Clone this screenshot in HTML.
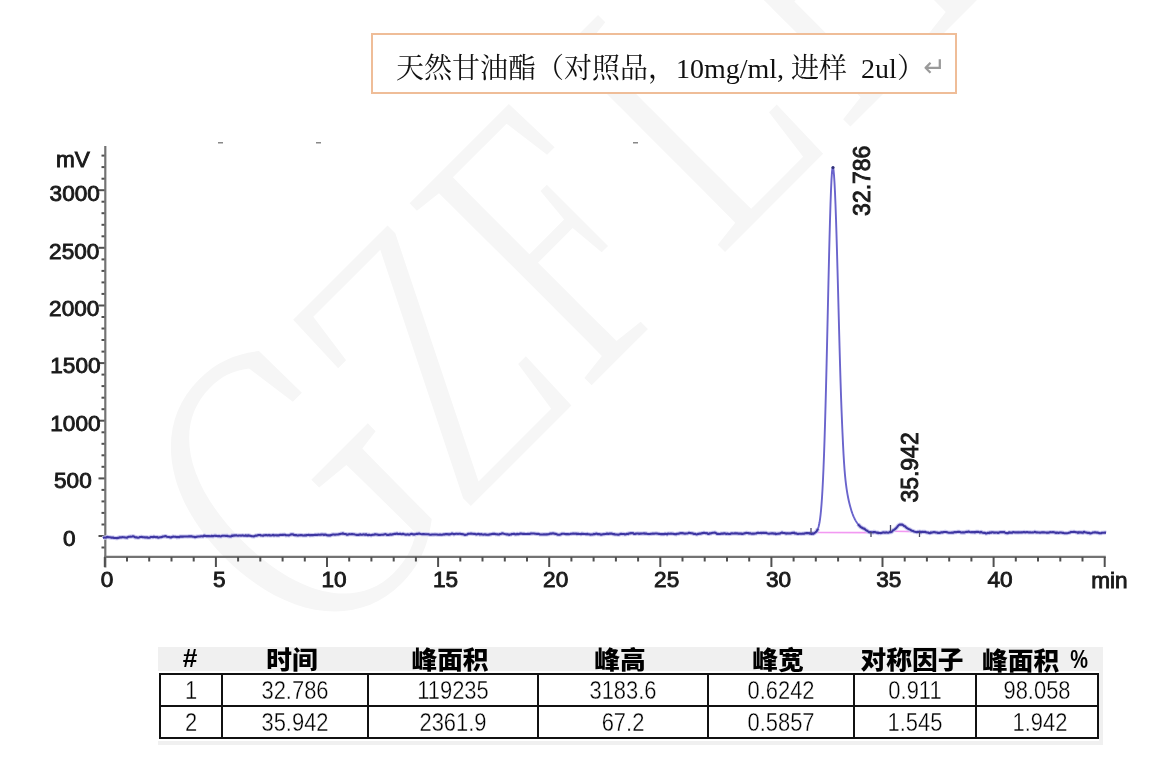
<!DOCTYPE html>
<html><head><meta charset="utf-8"><title>天然甘油酯 色谱图</title>
<style>
html,body{margin:0;padding:0;background:#fff;}
body{width:1157px;height:763px;position:relative;overflow:hidden;}
.title{position:absolute;left:371px;top:33px;width:582px;height:57px;border:2px solid #efbd98;background:#fff;}
.title .tx{position:absolute;top:15.5px;left:23px;white-space:pre;font-size:28px;line-height:36px;color:#111;
 font-family:"Liberation Serif","Noto Serif CJK SC",serif;}
.title .ret{position:absolute;left:550px;top:17px;line-height:30px;color:#9a9a9a;font-family:"DejaVu Sans",sans-serif;font-size:27px;}
.chart{position:absolute;left:0;top:0;}
.tbg{position:absolute;background:#f0f0f0;}
.tbody{position:absolute;left:160px;top:674px;width:937.5px;height:64px;background:#fff;}
.vl{position:absolute;top:673px;width:2px;height:66px;background:#111;}
.hl{position:absolute;left:159px;width:940px;height:2px;background:#111;}
.th{position:absolute;top:647px;width:160px;text-align:center;font-family:"Liberation Sans","Noto Sans CJK SC",sans-serif;font-weight:900;font-size:24.5px;line-height:28px;color:#000;transform:scaleX(1.05);}
.th .pc{display:inline-block;font-family:"Liberation Sans",sans-serif;font-weight:700;font-size:25px;margin-left:3.7px;transform:scaleX(0.76);transform-origin:0 0;position:relative;top:-2.5px;}
.td{position:absolute;width:160px;text-align:center;font-family:"Liberation Sans",sans-serif;font-size:25.5px;line-height:30px;color:#000;transform:scaleX(0.86);-webkit-text-stroke:0.35px #fff;}

</style></head><body>
<svg class="chart" width="1157" height="620" viewBox="0 0 1157 620">
<g id="wm" font-family="Noto Serif CJK SC, Liberation Serif, serif" font-weight="300" font-size="355" fill="#f6f6f6"><text transform="translate(310.0,667.0) rotate(-45) scale(0.827,1.070)">G</text><text transform="translate(465.6,511.4) rotate(-45) scale(0.750,1.000)">Z</text><text transform="translate(581.3,395.7) rotate(-45) scale(0.750,1.000)">F</text><text transform="translate(714.7,262.3) rotate(-45) scale(0.750,1.000)">L</text><text transform="translate(840.1,136.9) rotate(-45) scale(0.750,1.000)">H</text></g>
<g stroke="#737373" stroke-width="2.2" fill="none"><line x1="105.3" y1="146" x2="105.3" y2="567.5" /><line x1="104.3" y1="556.8" x2="1105.8" y2="556.8" /></g>
<g stroke="#505050" stroke-width="2" fill="none"><line x1="101.5" y1="547.5" x2="104.5" y2="547.5"/><line x1="98.5" y1="536.0" x2="104.5" y2="536.0"/><line x1="101.5" y1="524.5" x2="104.5" y2="524.5"/><line x1="101.5" y1="512.9" x2="104.5" y2="512.9"/><line x1="101.5" y1="501.4" x2="104.5" y2="501.4"/><line x1="101.5" y1="489.9" x2="104.5" y2="489.9"/><line x1="98.5" y1="478.4" x2="104.5" y2="478.4"/><line x1="101.5" y1="466.8" x2="104.5" y2="466.8"/><line x1="101.5" y1="455.3" x2="104.5" y2="455.3"/><line x1="101.5" y1="443.8" x2="104.5" y2="443.8"/><line x1="101.5" y1="432.3" x2="104.5" y2="432.3"/><line x1="98.5" y1="420.7" x2="104.5" y2="420.7"/><line x1="101.5" y1="409.2" x2="104.5" y2="409.2"/><line x1="101.5" y1="397.7" x2="104.5" y2="397.7"/><line x1="101.5" y1="386.1" x2="104.5" y2="386.1"/><line x1="101.5" y1="374.6" x2="104.5" y2="374.6"/><line x1="98.5" y1="363.1" x2="104.5" y2="363.1"/><line x1="101.5" y1="351.6" x2="104.5" y2="351.6"/><line x1="101.5" y1="340.0" x2="104.5" y2="340.0"/><line x1="101.5" y1="328.5" x2="104.5" y2="328.5"/><line x1="101.5" y1="317.0" x2="104.5" y2="317.0"/><line x1="98.5" y1="305.5" x2="104.5" y2="305.5"/><line x1="101.5" y1="293.9" x2="104.5" y2="293.9"/><line x1="101.5" y1="282.4" x2="104.5" y2="282.4"/><line x1="101.5" y1="270.9" x2="104.5" y2="270.9"/><line x1="101.5" y1="259.4" x2="104.5" y2="259.4"/><line x1="98.5" y1="247.8" x2="104.5" y2="247.8"/><line x1="101.5" y1="236.3" x2="104.5" y2="236.3"/><line x1="101.5" y1="224.8" x2="104.5" y2="224.8"/><line x1="101.5" y1="213.2" x2="104.5" y2="213.2"/><line x1="101.5" y1="201.7" x2="104.5" y2="201.7"/><line x1="98.5" y1="190.2" x2="104.5" y2="190.2"/><line x1="101.5" y1="178.7" x2="104.5" y2="178.7"/><line x1="101.5" y1="167.1" x2="104.5" y2="167.1"/><line x1="101.5" y1="155.6" x2="104.5" y2="155.6"/><line x1="104.8" y1="557" x2="104.8" y2="567.0"/><line x1="127.0" y1="557" x2="127.0" y2="561.5"/><line x1="149.2" y1="557" x2="149.2" y2="561.5"/><line x1="171.5" y1="557" x2="171.5" y2="561.5"/><line x1="193.7" y1="557" x2="193.7" y2="561.5"/><line x1="215.9" y1="557" x2="215.9" y2="567.0"/><line x1="238.1" y1="557" x2="238.1" y2="561.5"/><line x1="260.3" y1="557" x2="260.3" y2="561.5"/><line x1="282.6" y1="557" x2="282.6" y2="561.5"/><line x1="304.8" y1="557" x2="304.8" y2="561.5"/><line x1="327.0" y1="557" x2="327.0" y2="567.0"/><line x1="349.2" y1="557" x2="349.2" y2="561.5"/><line x1="371.4" y1="557" x2="371.4" y2="561.5"/><line x1="393.7" y1="557" x2="393.7" y2="561.5"/><line x1="415.9" y1="557" x2="415.9" y2="561.5"/><line x1="438.1" y1="557" x2="438.1" y2="567.0"/><line x1="460.3" y1="557" x2="460.3" y2="561.5"/><line x1="482.5" y1="557" x2="482.5" y2="561.5"/><line x1="504.8" y1="557" x2="504.8" y2="561.5"/><line x1="527.0" y1="557" x2="527.0" y2="561.5"/><line x1="549.2" y1="557" x2="549.2" y2="567.0"/><line x1="571.4" y1="557" x2="571.4" y2="561.5"/><line x1="593.6" y1="557" x2="593.6" y2="561.5"/><line x1="615.9" y1="557" x2="615.9" y2="561.5"/><line x1="638.1" y1="557" x2="638.1" y2="561.5"/><line x1="660.3" y1="557" x2="660.3" y2="567.0"/><line x1="682.5" y1="557" x2="682.5" y2="561.5"/><line x1="704.7" y1="557" x2="704.7" y2="561.5"/><line x1="727.0" y1="557" x2="727.0" y2="561.5"/><line x1="749.2" y1="557" x2="749.2" y2="561.5"/><line x1="771.4" y1="557" x2="771.4" y2="567.0"/><line x1="793.6" y1="557" x2="793.6" y2="561.5"/><line x1="815.8" y1="557" x2="815.8" y2="561.5"/><line x1="838.1" y1="557" x2="838.1" y2="561.5"/><line x1="860.3" y1="557" x2="860.3" y2="561.5"/><line x1="882.5" y1="557" x2="882.5" y2="567.0"/><line x1="904.7" y1="557" x2="904.7" y2="561.5"/><line x1="926.9" y1="557" x2="926.9" y2="561.5"/><line x1="949.2" y1="557" x2="949.2" y2="561.5"/><line x1="971.4" y1="557" x2="971.4" y2="561.5"/><line x1="993.6" y1="557" x2="993.6" y2="567.0"/><line x1="1015.8" y1="557" x2="1015.8" y2="561.5"/><line x1="1038.0" y1="557" x2="1038.0" y2="561.5"/><line x1="1060.3" y1="557" x2="1060.3" y2="561.5"/><line x1="1082.5" y1="557" x2="1082.5" y2="561.5"/><line x1="1104.7" y1="557" x2="1104.7" y2="567.0"/></g>
<g id="lbl" font-family="Liberation Sans, Arial, sans-serif" font-size="22" fill="#1a1a1a" stroke="#1a1a1a" stroke-width="0.9">
<text x="56.00" y="166.50" font-size="22.6">mV</text><text x="49.60" y="200.70" font-size="22.6">3000</text><text x="49.10" y="258.90" font-size="22.6">2500</text><text x="49.10" y="316.10" font-size="22.6">2000</text><text x="50.30" y="373.30" font-size="22.6">1500</text><text x="50.30" y="430.50" font-size="22.6">1000</text><text x="54.00" y="488.30" font-size="22.6">500</text><text x="63.10" y="546.20" font-size="22.6">0</text><text x="100.70" y="587.00" font-size="22.6">0</text><text x="213.00" y="587.00" font-size="22.6">5</text><text x="321.50" y="587.00" font-size="22.6">10</text><text x="433.00" y="587.00" font-size="22.6">15</text><text x="543.10" y="587.00" font-size="22.6">20</text><text x="654.10" y="587.00" font-size="22.6">25</text><text x="765.90" y="587.00" font-size="22.6">30</text><text x="876.20" y="587.00" font-size="22.6">35</text><text x="987.50" y="587.00" font-size="22.6">40</text><text x="1091.20" y="588.00" font-size="22.6">min</text><text transform="translate(869.90,215.90) rotate(-90) scale(1,1.07)" font-size="23">32.786</text><text transform="translate(917.80,502.60) rotate(-90) scale(1,1.07)" font-size="23">35.942</text>
</g>
<g stroke="#f080f0" stroke-width="1.6" fill="none" opacity="0.8">
<line x1="811" y1="532.5" x2="871" y2="532.6"/>
<line x1="890.5" y1="531.2" x2="919.5" y2="531.6"/>
</g>
<path d="M815.0,532.59 L815.5,532.28 L816.0,531.90 L816.5,531.39 L817.0,530.70 L817.5,529.79 L818.0,528.60 L818.5,527.05 L819.0,525.06 L819.5,522.53 L820.0,519.35 L820.5,515.41 L821.0,510.57 L821.5,504.69 L822.0,497.65 L822.5,489.31 L823.0,479.55 L823.5,468.26 L824.0,455.39 L824.5,440.88 L825.0,424.76 L825.5,407.09 L826.0,388.01 L826.5,367.69 L827.0,346.41 L827.5,324.49 L828.0,302.31 L828.5,280.32 L829.0,258.99 L829.5,238.81 L830.0,220.30 L830.5,203.94 L831.0,190.16 L831.5,179.37 L832.0,171.86 L832.5,167.87 L833.0,167.43 L833.5,169.87 L834.0,174.97 L834.5,182.61 L835.0,192.62 L835.5,204.80 L836.0,218.89 L836.5,234.60 L837.0,251.62 L837.5,269.64 L838.0,288.34 L838.5,307.38 L839.0,326.44 L839.5,345.17 L840.0,363.17 L840.5,380.06 L841.0,395.48 L841.5,409.29 L842.0,421.64 L842.5,433.00 L843.0,443.91 L843.5,453.64 L844.0,462.00 L844.5,469.08 L845.0,475.06 L845.5,480.10 L846.0,484.39 L846.5,488.11 L847.0,491.39 L847.5,494.33 L848.0,497.00 L848.5,499.45 L849.0,501.72 L849.5,503.83 L850.0,505.79 L850.5,507.61 L851.0,509.32 L851.5,510.91 L852.0,512.39 L852.5,513.78 L853.0,515.07 L853.5,516.28 L854.0,517.41 L854.5,518.46 L855.0,519.45 L855.5,520.37 L856.0,521.22 L856.5,522.02 L857.0,522.77 L857.5,523.47 L858.0,524.12 L858.5,524.73 L859.0,525.30 L859.5,525.83 L860.0,526.20 L860.5,527.02 L861.0,527.17 L861.5,527.41 L862.0,527.80" fill="none" stroke="#6a64cc" stroke-width="1.9" stroke-linejoin="round"/>
<g fill="none" stroke="#c9c7ef" stroke-width="4.2" stroke-linejoin="round"><path d="M103.0,538.07 L104.0,537.52 L105.0,537.56 L106.0,537.58 L107.0,536.87 L108.0,537.16 L109.0,537.28 L110.0,537.27 L111.0,537.63 L112.0,537.64 L113.0,537.48 L114.0,537.96 L115.0,537.99 L116.0,538.07 L117.0,538.14 L118.0,537.86 L119.0,537.67 L120.0,537.24 L121.0,537.44 L122.0,537.16 L123.0,537.23 L124.0,537.22 L125.0,537.43 L126.0,537.58 L127.0,537.82 L128.0,536.98 L129.0,536.73 L130.0,536.68 L131.0,536.67 L132.0,536.48 L133.0,536.22 L134.0,536.45 L135.0,537.32 L136.0,537.39 L137.0,537.40 L138.0,537.69 L139.0,537.49 L140.0,537.08 L141.0,536.93 L142.0,536.92 L143.0,537.21 L144.0,537.20 L145.0,537.37 L146.0,537.53 L147.0,537.24 L148.0,537.77 L149.0,537.67 L150.0,537.50 L151.0,536.93 L152.0,537.05 L153.0,537.21 L154.0,536.67 L155.0,536.96 L156.0,537.25 L157.0,536.95 L158.0,537.59 L159.0,537.45 L160.0,537.26 L161.0,537.14 L162.0,536.91 L163.0,536.52 L164.0,536.50 L165.0,536.12 L166.0,536.30 L167.0,536.82 L168.0,536.93 L169.0,536.99 L170.0,537.40 L171.0,537.44 L172.0,536.94 L173.0,536.63 L174.0,536.77 L175.0,536.79 L176.0,536.86 L177.0,537.28 L178.0,536.88 L179.0,537.24 L180.0,536.63 L181.0,536.51 L182.0,536.59 L183.0,536.58 L184.0,536.52 L185.0,536.48 L186.0,536.50 L187.0,536.52 L188.0,536.56 L189.0,536.35 L190.0,536.37 L191.0,536.42 L192.0,536.40 L193.0,536.68 L194.0,536.80 L195.0,537.17 L196.0,536.89 L197.0,536.68 L198.0,536.56 L199.0,536.47 L200.0,536.51 L201.0,536.19 L202.0,536.26 L203.0,536.48 L204.0,535.64 L205.0,535.86 L206.0,536.09 L207.0,536.12 L208.0,536.12 L209.0,536.03 L210.0,536.23 L211.0,536.12 L212.0,535.87 L213.0,536.29 L214.0,535.83 L215.0,535.67 L216.0,535.86 L217.0,536.03 L218.0,536.27 L219.0,535.92 L220.0,536.33 L221.0,536.45 L222.0,535.82 L223.0,535.77 L224.0,535.80 L225.0,535.78 L226.0,536.05 L227.0,535.72 L228.0,536.20 L229.0,536.32 L230.0,536.47 L231.0,536.39 L232.0,535.47 L233.0,535.92 L234.0,535.31 L235.0,535.63 L236.0,535.25 L237.0,535.58 L238.0,535.79 L239.0,535.53 L240.0,535.55 L241.0,535.61 L242.0,535.46 L243.0,535.42 L244.0,535.72 L245.0,535.64 L246.0,535.39 L247.0,535.94 L248.0,535.26 L249.0,535.72 L250.0,535.67 L251.0,535.96 L252.0,536.27 L253.0,536.30 L254.0,536.37 L255.0,535.82 L256.0,535.57 L257.0,535.67 L258.0,535.16 L259.0,535.04 L260.0,534.96 L261.0,535.52 L262.0,535.51 L263.0,535.68 L264.0,535.20 L265.0,535.28 L266.0,534.96 L267.0,535.23 L268.0,535.36 L269.0,534.96 L270.0,535.46 L271.0,535.42 L272.0,535.24 L273.0,534.92 L274.0,535.52 L275.0,535.26 L276.0,535.18 L277.0,535.36 L278.0,535.31 L279.0,535.40 L280.0,534.78 L281.0,534.99 L282.0,534.92 L283.0,534.89 L284.0,534.69 L285.0,534.77 L286.0,535.28 L287.0,535.25 L288.0,535.25 L289.0,535.36 L290.0,534.85 L291.0,534.30 L292.0,534.56 L293.0,534.35 L294.0,535.00 L295.0,535.13 L296.0,535.15 L297.0,535.34 L298.0,535.45 L299.0,535.19 L300.0,535.28 L301.0,534.96 L302.0,535.17 L303.0,535.34 L304.0,535.48 L305.0,535.17 L306.0,535.49 L307.0,534.97 L308.0,535.05 L309.0,534.83 L310.0,535.34 L311.0,534.93 L312.0,535.15 L313.0,535.10 L314.0,535.07 L315.0,534.86 L316.0,534.88 L317.0,535.05 L318.0,534.67 L319.0,534.73 L320.0,534.82 L321.0,534.62 L322.0,534.44 L323.0,534.58 L324.0,534.91 L325.0,534.50 L326.0,534.83 L327.0,535.27 L328.0,535.37 L329.0,535.28 L330.0,535.37 L331.0,535.11 L332.0,534.67 L333.0,534.44 L334.0,534.51 L335.0,534.79 L336.0,534.56 L337.0,534.52 L338.0,534.48 L339.0,534.15 L340.0,534.14 L341.0,533.68 L342.0,533.78 L343.0,533.29 L344.0,533.94 L345.0,534.06 L346.0,534.11 L347.0,534.79 L348.0,534.64 L349.0,534.16 L350.0,534.18 L351.0,534.18 L352.0,533.93 L353.0,534.18 L354.0,534.33 L355.0,534.53 L356.0,534.68 L357.0,535.00 L358.0,534.92 L359.0,534.84 L360.0,534.30 L361.0,534.76 L362.0,534.76 L363.0,534.44 L364.0,534.41 L365.0,534.87 L366.0,534.26 L367.0,534.75 L368.0,535.21 L369.0,534.72 L370.0,535.08 L371.0,535.29 L372.0,534.83 L373.0,534.80 L374.0,534.70 L375.0,534.27 L376.0,534.41 L377.0,534.59 L378.0,534.86 L379.0,534.88 L380.0,534.94 L381.0,534.75 L382.0,534.71 L383.0,534.72 L384.0,534.41 L385.0,534.17 L386.0,534.23 L387.0,535.02 L388.0,534.91 L389.0,534.91 L390.0,534.28 L391.0,534.68 L392.0,534.40 L393.0,534.36 L394.0,533.94 L395.0,533.77 L396.0,533.88 L397.0,533.47 L398.0,534.04 L399.0,533.92 L400.0,533.72 L401.0,534.09 L402.0,534.25 L403.0,533.81 L404.0,534.13 L405.0,534.49 L406.0,534.59 L407.0,534.51 L408.0,534.34 L409.0,534.77 L410.0,534.43 L411.0,533.93 L412.0,533.85 L413.0,534.38 L414.0,534.23 L415.0,534.34 L416.0,534.10 L417.0,533.73 L418.0,533.90 L419.0,533.49 L420.0,533.82 L421.0,534.05 L422.0,534.24 L423.0,534.06 L424.0,534.15 L425.0,534.22 L426.0,534.19 L427.0,534.27 L428.0,534.31 L429.0,534.37 L430.0,534.73 L431.0,534.70 L432.0,534.55 L433.0,534.52 L434.0,534.54 L435.0,534.45 L436.0,534.51 L437.0,534.56 L438.0,534.71 L439.0,534.76 L440.0,534.57 L441.0,534.80 L442.0,534.77 L443.0,534.50 L444.0,534.26 L445.0,534.33 L446.0,534.10 L447.0,533.98 L448.0,534.36 L449.0,534.16 L450.0,534.38 L451.0,533.95 L452.0,533.59 L453.0,533.83 L454.0,534.31 L455.0,533.97 L456.0,533.77 L457.0,533.81 L458.0,533.93 L459.0,533.82 L460.0,533.72 L461.0,534.03 L462.0,534.08 L463.0,534.21 L464.0,534.56 L465.0,534.88 L466.0,534.72 L467.0,534.54 L468.0,533.88 L469.0,533.77 L470.0,533.73 L471.0,533.48 L472.0,533.78 L473.0,533.82 L474.0,534.00 L475.0,533.89 L476.0,534.41 L477.0,534.17 L478.0,533.91 L479.0,533.99 L480.0,534.52 L481.0,534.10 L482.0,534.44 L483.0,534.58 L484.0,534.49 L485.0,534.36 L486.0,534.65 L487.0,534.70 L488.0,534.81 L489.0,534.65 L490.0,534.35 L491.0,534.29 L492.0,534.03 L493.0,533.84 L494.0,533.81 L495.0,533.89 L496.0,534.28 L497.0,534.19 L498.0,534.39 L499.0,534.47 L500.0,534.02 L501.0,533.94 L502.0,533.41 L503.0,533.52 L504.0,533.79 L505.0,534.00 L506.0,534.17 L507.0,534.40 L508.0,534.33 L509.0,534.90 L510.0,534.53 L511.0,534.45 L512.0,533.95 L513.0,534.02 L514.0,533.75 L515.0,534.29 L516.0,534.38 L517.0,533.88 L518.0,534.15 L519.0,534.18 L520.0,533.65 L521.0,533.59 L522.0,533.73 L523.0,533.85 L524.0,533.75 L525.0,534.01 L526.0,534.00 L527.0,533.99 L528.0,533.91 L529.0,533.97 L530.0,533.87 L531.0,533.42 L532.0,533.57 L533.0,533.48 L534.0,533.49 L535.0,533.71 L536.0,533.81 L537.0,534.04 L538.0,533.84 L539.0,534.10 L540.0,534.46 L541.0,534.50 L542.0,534.46 L543.0,534.44 L544.0,534.23 L545.0,534.46 L546.0,534.40 L547.0,534.35 L548.0,534.23 L549.0,534.23 L550.0,533.59 L551.0,533.67 L552.0,533.63 L553.0,533.25 L554.0,533.62 L555.0,533.84 L556.0,533.90 L557.0,534.43 L558.0,534.61 L559.0,534.75 L560.0,534.60 L561.0,534.21 L562.0,533.78 L563.0,533.74 L564.0,533.74 L565.0,534.00 L566.0,534.11 L567.0,534.09 L568.0,534.05 L569.0,534.19 L570.0,534.00 L571.0,533.76 L572.0,533.78 L573.0,533.59 L574.0,533.63 L575.0,533.68 L576.0,533.53 L577.0,534.07 L578.0,533.66 L579.0,534.02 L580.0,533.96 L581.0,534.23 L582.0,533.65 L583.0,533.91 L584.0,534.01 L585.0,533.96 L586.0,534.21 L587.0,533.87 L588.0,534.17 L589.0,534.28 L590.0,534.53 L591.0,534.58 L592.0,534.46 L593.0,534.44 L594.0,533.92 L595.0,534.10 L596.0,533.56 L597.0,533.79 L598.0,534.27 L599.0,534.06 L600.0,534.31 L601.0,534.63 L602.0,534.43 L603.0,534.17 L604.0,534.19 L605.0,534.07 L606.0,533.94 L607.0,533.55 L608.0,533.92 L609.0,533.85 L610.0,533.53 L611.0,533.60 L612.0,533.58 L613.0,534.11 L614.0,533.98 L615.0,534.49 L616.0,534.48 L617.0,534.50 L618.0,534.68 L619.0,534.61 L620.0,534.14 L621.0,533.85 L622.0,534.05 L623.0,533.93 L624.0,534.08 L625.0,534.37 L626.0,534.27 L627.0,533.82 L628.0,534.09 L629.0,533.43 L630.0,533.39 L631.0,533.07 L632.0,533.24 L633.0,533.10 L634.0,533.92 L635.0,533.98 L636.0,533.58 L637.0,533.52 L638.0,533.45 L639.0,533.89 L640.0,533.54 L641.0,533.59 L642.0,533.53 L643.0,533.56 L644.0,533.39 L645.0,533.61 L646.0,533.41 L647.0,533.76 L648.0,533.94 L649.0,534.07 L650.0,533.96 L651.0,533.77 L652.0,533.80 L653.0,533.49 L654.0,533.71 L655.0,533.52 L656.0,533.44 L657.0,533.55 L658.0,533.73 L659.0,533.86 L660.0,534.06 L661.0,534.16 L662.0,534.12 L663.0,534.04 L664.0,534.25 L665.0,533.74 L666.0,533.89 L667.0,534.40 L668.0,533.53 L669.0,533.68 L670.0,533.70 L671.0,533.63 L672.0,533.70 L673.0,533.70 L674.0,533.99 L675.0,534.10 L676.0,534.30 L677.0,533.75 L678.0,533.73 L679.0,533.62 L680.0,533.18 L681.0,533.03 L682.0,533.30 L683.0,533.16 L684.0,533.51 L685.0,533.61 L686.0,533.51 L687.0,533.44 L688.0,533.16 L689.0,532.79 L690.0,532.99 L691.0,533.16 L692.0,533.18 L693.0,533.53 L694.0,533.94 L695.0,533.85 L696.0,534.23 L697.0,534.45 L698.0,533.90 L699.0,533.83 L700.0,533.54 L701.0,533.58 L702.0,533.13 L703.0,533.08 L704.0,532.77 L705.0,533.00 L706.0,533.21 L707.0,533.14 L708.0,533.91 L709.0,533.86 L710.0,533.25 L711.0,533.42 L712.0,532.94 L713.0,532.80 L714.0,532.73 L715.0,532.57 L716.0,533.16 L717.0,533.90 L718.0,533.88 L719.0,533.98 L720.0,533.87 L721.0,533.67 L722.0,533.66 L723.0,533.67 L724.0,533.34 L725.0,533.37 L726.0,533.92 L727.0,533.64 L728.0,533.77 L729.0,534.04 L730.0,533.98 L731.0,533.56 L732.0,533.38 L733.0,533.53 L734.0,533.45 L735.0,533.16 L736.0,533.38 L737.0,533.36 L738.0,533.60 L739.0,533.56 L740.0,533.63 L741.0,533.63 L742.0,533.88 L743.0,533.86 L744.0,533.39 L745.0,533.40 L746.0,532.92 L747.0,532.95 L748.0,533.08 L749.0,533.37 L750.0,533.28 L751.0,533.60 L752.0,533.85 L753.0,533.62 L754.0,533.82 L755.0,533.52 L756.0,533.50 L757.0,533.05 L758.0,532.77 L759.0,533.06 L760.0,533.07 L761.0,532.88 L762.0,533.10 L763.0,532.85 L764.0,532.80 L765.0,533.07 L766.0,532.84 L767.0,533.16 L768.0,533.43 L769.0,533.66 L770.0,533.46 L771.0,533.47 L772.0,533.21 L773.0,533.36 L774.0,533.67 L775.0,533.40 L776.0,534.12 L777.0,533.69 L778.0,533.79 L779.0,533.66 L780.0,533.56 L781.0,532.88 L782.0,532.52 L783.0,532.94 L784.0,533.03 L785.0,533.15 L786.0,533.67 L787.0,533.34 L788.0,533.37 L789.0,533.44 L790.0,533.25 L791.0,533.42 L792.0,532.88 L793.0,533.07 L794.0,532.59 L795.0,533.44 L796.0,533.31 L797.0,533.64 L798.0,533.96 L799.0,533.69 L800.0,533.76 L801.0,533.80 L802.0,533.73 L803.0,533.66 L804.0,533.69 L805.0,533.34 L806.0,533.15 L806.5,533.04 L807.0,533.21 L807.5,533.14 L808.0,533.07 L808.5,533.29 L809.0,533.23 L809.5,533.16 L810.0,533.74 L810.5,533.66 L811.0,533.48 L811.5,533.89 L812.0,533.76 L812.5,533.36 L813.0,533.84 L813.5,533.46 L814.0,533.36 L814.5,532.97 L815.0,532.59 L815.5,532.28 L816.0,531.90 L816.5,531.39 L817.0,530.70 L817.5,529.79 L818.0,528.60"/><path d="M858.0,524.12 L858.5,524.73 L859.0,525.30 L859.5,525.83 L860.0,526.20 L860.5,527.02 L861.0,527.17 L861.5,527.41 L862.0,527.80 L862.5,528.01 L863.0,528.37 L863.5,528.44 L864.0,528.76 L864.5,528.66 L865.0,529.26 L865.5,529.77 L866.0,530.21 L866.5,530.24 L867.0,530.62 L867.5,531.25 L868.0,531.21 L868.5,531.68 L869.0,532.08 L869.5,531.98 L870.0,532.34 L870.5,532.06 L871.0,532.26 L871.5,532.20 L872.0,532.20 L872.5,532.34 L873.0,532.53 L873.5,531.95 L874.0,531.97 L874.5,532.19 L875.0,531.98 L875.5,532.36 L876.0,532.51 L876.5,532.50 L877.0,532.81 L877.5,532.58 L878.0,533.13 L878.5,532.81 L879.0,533.03 L879.5,533.07 L880.0,533.06 L881.0,533.12 L882.0,532.73 L883.0,532.41 L884.0,532.44 L885.0,532.62 L886.0,532.41 L887.0,532.56 L888.0,532.74 L889.0,532.45 L890.0,531.91 L891.0,532.19 L892.0,531.63 L893.0,530.26 L894.0,529.88 L895.0,529.11 L896.0,528.22 L897.0,527.09 L898.0,525.88 L899.0,524.87 L900.0,524.53 L901.0,524.62 L902.0,524.53 L903.0,525.07 L904.0,525.94 L905.0,526.34 L906.0,527.36 L907.0,528.01 L908.0,528.79 L909.0,529.16 L910.0,529.67 L911.0,530.27 L912.0,530.78 L913.0,531.03 L914.0,531.43 L915.0,531.76 L916.0,531.98 L917.0,532.18 L918.0,531.82 L919.0,531.93 L920.0,531.56 L921.0,532.31 L922.0,531.76 L923.0,531.83 L924.0,531.95 L925.0,531.74 L926.0,532.32 L927.0,532.54 L928.0,532.49 L929.0,533.02 L930.0,533.16 L931.0,532.41 L932.0,532.62 L933.0,532.25 L934.0,532.17 L935.0,532.21 L936.0,532.55 L937.0,532.53 L938.0,532.93 L939.0,532.76 L940.0,532.87 L941.0,532.36 L942.0,532.23 L943.0,532.35 L944.0,532.02 L945.0,531.96 L946.0,531.93 L947.0,532.18 L948.0,532.52 L949.0,532.77 L950.0,532.72 L951.0,532.73 L952.0,532.57 L953.0,532.73 L954.0,532.30 L955.0,532.12 L956.0,532.22 L957.0,531.96 L958.0,531.85 L959.0,531.86 L960.0,532.08 L961.0,532.44 L962.0,532.57 L963.0,532.36 L964.0,532.59 L965.0,532.34 L966.0,531.87 L967.0,531.96 L968.0,531.64 L969.0,531.65 L970.0,531.98 L971.0,532.26 L972.0,532.04 L973.0,532.30 L974.0,532.02 L975.0,532.48 L976.0,531.85 L977.0,532.08 L978.0,531.76 L979.0,532.12 L980.0,532.54 L981.0,531.87 L982.0,532.44 L983.0,532.80 L984.0,532.86 L985.0,532.91 L986.0,533.52 L987.0,533.19 L988.0,532.81 L989.0,533.09 L990.0,532.39 L991.0,532.68 L992.0,532.22 L993.0,532.32 L994.0,532.63 L995.0,532.60 L996.0,532.49 L997.0,532.49 L998.0,532.92 L999.0,532.63 L1000.0,532.09 L1001.0,532.19 L1002.0,532.07 L1003.0,532.22 L1004.0,531.95 L1005.0,532.60 L1006.0,533.06 L1007.0,533.14 L1008.0,533.12 L1009.0,532.36 L1010.0,532.63 L1011.0,532.52 L1012.0,532.80 L1013.0,532.15 L1014.0,532.28 L1015.0,532.38 L1016.0,532.55 L1017.0,532.30 L1018.0,532.58 L1019.0,532.22 L1020.0,532.42 L1021.0,532.28 L1022.0,532.40 L1023.0,532.20 L1024.0,531.97 L1025.0,532.38 L1026.0,532.20 L1027.0,532.07 L1028.0,532.28 L1029.0,532.53 L1030.0,532.26 L1031.0,532.44 L1032.0,532.51 L1033.0,532.41 L1034.0,532.17 L1035.0,531.81 L1036.0,532.44 L1037.0,532.38 L1038.0,532.44 L1039.0,532.48 L1040.0,532.61 L1041.0,532.46 L1042.0,532.31 L1043.0,532.34 L1044.0,532.41 L1045.0,532.50 L1046.0,532.51 L1047.0,532.88 L1048.0,532.47 L1049.0,532.66 L1050.0,532.13 L1051.0,532.18 L1052.0,532.27 L1053.0,532.13 L1054.0,532.18 L1055.0,532.60 L1056.0,532.86 L1057.0,532.65 L1058.0,532.83 L1059.0,532.83 L1060.0,532.55 L1061.0,532.55 L1062.0,532.69 L1063.0,532.85 L1064.0,533.10 L1065.0,533.26 L1066.0,533.22 L1067.0,533.25 L1068.0,533.04 L1069.0,532.77 L1070.0,532.50 L1071.0,531.96 L1072.0,532.02 L1073.0,531.97 L1074.0,531.78 L1075.0,532.01 L1076.0,532.23 L1077.0,532.27 L1078.0,532.84 L1079.0,532.12 L1080.0,532.61 L1081.0,532.28 L1082.0,532.66 L1083.0,532.81 L1084.0,531.78 L1085.0,532.26 L1086.0,532.48 L1087.0,532.59 L1088.0,533.03 L1089.0,532.76 L1090.0,533.39 L1091.0,533.19 L1092.0,532.89 L1093.0,532.50 L1094.0,532.52 L1095.0,532.27 L1096.0,532.53 L1097.0,532.64 L1098.0,532.59 L1099.0,533.17 L1100.0,533.25 L1101.0,533.25 L1102.0,532.76 L1103.0,532.73 L1104.0,532.72 L1105.0,532.62 L1106.0,532.87"/></g>
<path d="M103.0,538.07 L104.0,537.52 L105.0,537.56 L106.0,537.58 L107.0,536.87 L108.0,537.16 L109.0,537.28 L110.0,537.27 L111.0,537.63 L112.0,537.64 L113.0,537.48 L114.0,537.96 L115.0,537.99 L116.0,538.07 L117.0,538.14 L118.0,537.86 L119.0,537.67 L120.0,537.24 L121.0,537.44 L122.0,537.16 L123.0,537.23 L124.0,537.22 L125.0,537.43 L126.0,537.58 L127.0,537.82 L128.0,536.98 L129.0,536.73 L130.0,536.68 L131.0,536.67 L132.0,536.48 L133.0,536.22 L134.0,536.45 L135.0,537.32 L136.0,537.39 L137.0,537.40 L138.0,537.69 L139.0,537.49 L140.0,537.08 L141.0,536.93 L142.0,536.92 L143.0,537.21 L144.0,537.20 L145.0,537.37 L146.0,537.53 L147.0,537.24 L148.0,537.77 L149.0,537.67 L150.0,537.50 L151.0,536.93 L152.0,537.05 L153.0,537.21 L154.0,536.67 L155.0,536.96 L156.0,537.25 L157.0,536.95 L158.0,537.59 L159.0,537.45 L160.0,537.26 L161.0,537.14 L162.0,536.91 L163.0,536.52 L164.0,536.50 L165.0,536.12 L166.0,536.30 L167.0,536.82 L168.0,536.93 L169.0,536.99 L170.0,537.40 L171.0,537.44 L172.0,536.94 L173.0,536.63 L174.0,536.77 L175.0,536.79 L176.0,536.86 L177.0,537.28 L178.0,536.88 L179.0,537.24 L180.0,536.63 L181.0,536.51 L182.0,536.59 L183.0,536.58 L184.0,536.52 L185.0,536.48 L186.0,536.50 L187.0,536.52 L188.0,536.56 L189.0,536.35 L190.0,536.37 L191.0,536.42 L192.0,536.40 L193.0,536.68 L194.0,536.80 L195.0,537.17 L196.0,536.89 L197.0,536.68 L198.0,536.56 L199.0,536.47 L200.0,536.51 L201.0,536.19 L202.0,536.26 L203.0,536.48 L204.0,535.64 L205.0,535.86 L206.0,536.09 L207.0,536.12 L208.0,536.12 L209.0,536.03 L210.0,536.23 L211.0,536.12 L212.0,535.87 L213.0,536.29 L214.0,535.83 L215.0,535.67 L216.0,535.86 L217.0,536.03 L218.0,536.27 L219.0,535.92 L220.0,536.33 L221.0,536.45 L222.0,535.82 L223.0,535.77 L224.0,535.80 L225.0,535.78 L226.0,536.05 L227.0,535.72 L228.0,536.20 L229.0,536.32 L230.0,536.47 L231.0,536.39 L232.0,535.47 L233.0,535.92 L234.0,535.31 L235.0,535.63 L236.0,535.25 L237.0,535.58 L238.0,535.79 L239.0,535.53 L240.0,535.55 L241.0,535.61 L242.0,535.46 L243.0,535.42 L244.0,535.72 L245.0,535.64 L246.0,535.39 L247.0,535.94 L248.0,535.26 L249.0,535.72 L250.0,535.67 L251.0,535.96 L252.0,536.27 L253.0,536.30 L254.0,536.37 L255.0,535.82 L256.0,535.57 L257.0,535.67 L258.0,535.16 L259.0,535.04 L260.0,534.96 L261.0,535.52 L262.0,535.51 L263.0,535.68 L264.0,535.20 L265.0,535.28 L266.0,534.96 L267.0,535.23 L268.0,535.36 L269.0,534.96 L270.0,535.46 L271.0,535.42 L272.0,535.24 L273.0,534.92 L274.0,535.52 L275.0,535.26 L276.0,535.18 L277.0,535.36 L278.0,535.31 L279.0,535.40 L280.0,534.78 L281.0,534.99 L282.0,534.92 L283.0,534.89 L284.0,534.69 L285.0,534.77 L286.0,535.28 L287.0,535.25 L288.0,535.25 L289.0,535.36 L290.0,534.85 L291.0,534.30 L292.0,534.56 L293.0,534.35 L294.0,535.00 L295.0,535.13 L296.0,535.15 L297.0,535.34 L298.0,535.45 L299.0,535.19 L300.0,535.28 L301.0,534.96 L302.0,535.17 L303.0,535.34 L304.0,535.48 L305.0,535.17 L306.0,535.49 L307.0,534.97 L308.0,535.05 L309.0,534.83 L310.0,535.34 L311.0,534.93 L312.0,535.15 L313.0,535.10 L314.0,535.07 L315.0,534.86 L316.0,534.88 L317.0,535.05 L318.0,534.67 L319.0,534.73 L320.0,534.82 L321.0,534.62 L322.0,534.44 L323.0,534.58 L324.0,534.91 L325.0,534.50 L326.0,534.83 L327.0,535.27 L328.0,535.37 L329.0,535.28 L330.0,535.37 L331.0,535.11 L332.0,534.67 L333.0,534.44 L334.0,534.51 L335.0,534.79 L336.0,534.56 L337.0,534.52 L338.0,534.48 L339.0,534.15 L340.0,534.14 L341.0,533.68 L342.0,533.78 L343.0,533.29 L344.0,533.94 L345.0,534.06 L346.0,534.11 L347.0,534.79 L348.0,534.64 L349.0,534.16 L350.0,534.18 L351.0,534.18 L352.0,533.93 L353.0,534.18 L354.0,534.33 L355.0,534.53 L356.0,534.68 L357.0,535.00 L358.0,534.92 L359.0,534.84 L360.0,534.30 L361.0,534.76 L362.0,534.76 L363.0,534.44 L364.0,534.41 L365.0,534.87 L366.0,534.26 L367.0,534.75 L368.0,535.21 L369.0,534.72 L370.0,535.08 L371.0,535.29 L372.0,534.83 L373.0,534.80 L374.0,534.70 L375.0,534.27 L376.0,534.41 L377.0,534.59 L378.0,534.86 L379.0,534.88 L380.0,534.94 L381.0,534.75 L382.0,534.71 L383.0,534.72 L384.0,534.41 L385.0,534.17 L386.0,534.23 L387.0,535.02 L388.0,534.91 L389.0,534.91 L390.0,534.28 L391.0,534.68 L392.0,534.40 L393.0,534.36 L394.0,533.94 L395.0,533.77 L396.0,533.88 L397.0,533.47 L398.0,534.04 L399.0,533.92 L400.0,533.72 L401.0,534.09 L402.0,534.25 L403.0,533.81 L404.0,534.13 L405.0,534.49 L406.0,534.59 L407.0,534.51 L408.0,534.34 L409.0,534.77 L410.0,534.43 L411.0,533.93 L412.0,533.85 L413.0,534.38 L414.0,534.23 L415.0,534.34 L416.0,534.10 L417.0,533.73 L418.0,533.90 L419.0,533.49 L420.0,533.82 L421.0,534.05 L422.0,534.24 L423.0,534.06 L424.0,534.15 L425.0,534.22 L426.0,534.19 L427.0,534.27 L428.0,534.31 L429.0,534.37 L430.0,534.73 L431.0,534.70 L432.0,534.55 L433.0,534.52 L434.0,534.54 L435.0,534.45 L436.0,534.51 L437.0,534.56 L438.0,534.71 L439.0,534.76 L440.0,534.57 L441.0,534.80 L442.0,534.77 L443.0,534.50 L444.0,534.26 L445.0,534.33 L446.0,534.10 L447.0,533.98 L448.0,534.36 L449.0,534.16 L450.0,534.38 L451.0,533.95 L452.0,533.59 L453.0,533.83 L454.0,534.31 L455.0,533.97 L456.0,533.77 L457.0,533.81 L458.0,533.93 L459.0,533.82 L460.0,533.72 L461.0,534.03 L462.0,534.08 L463.0,534.21 L464.0,534.56 L465.0,534.88 L466.0,534.72 L467.0,534.54 L468.0,533.88 L469.0,533.77 L470.0,533.73 L471.0,533.48 L472.0,533.78 L473.0,533.82 L474.0,534.00 L475.0,533.89 L476.0,534.41 L477.0,534.17 L478.0,533.91 L479.0,533.99 L480.0,534.52 L481.0,534.10 L482.0,534.44 L483.0,534.58 L484.0,534.49 L485.0,534.36 L486.0,534.65 L487.0,534.70 L488.0,534.81 L489.0,534.65 L490.0,534.35 L491.0,534.29 L492.0,534.03 L493.0,533.84 L494.0,533.81 L495.0,533.89 L496.0,534.28 L497.0,534.19 L498.0,534.39 L499.0,534.47 L500.0,534.02 L501.0,533.94 L502.0,533.41 L503.0,533.52 L504.0,533.79 L505.0,534.00 L506.0,534.17 L507.0,534.40 L508.0,534.33 L509.0,534.90 L510.0,534.53 L511.0,534.45 L512.0,533.95 L513.0,534.02 L514.0,533.75 L515.0,534.29 L516.0,534.38 L517.0,533.88 L518.0,534.15 L519.0,534.18 L520.0,533.65 L521.0,533.59 L522.0,533.73 L523.0,533.85 L524.0,533.75 L525.0,534.01 L526.0,534.00 L527.0,533.99 L528.0,533.91 L529.0,533.97 L530.0,533.87 L531.0,533.42 L532.0,533.57 L533.0,533.48 L534.0,533.49 L535.0,533.71 L536.0,533.81 L537.0,534.04 L538.0,533.84 L539.0,534.10 L540.0,534.46 L541.0,534.50 L542.0,534.46 L543.0,534.44 L544.0,534.23 L545.0,534.46 L546.0,534.40 L547.0,534.35 L548.0,534.23 L549.0,534.23 L550.0,533.59 L551.0,533.67 L552.0,533.63 L553.0,533.25 L554.0,533.62 L555.0,533.84 L556.0,533.90 L557.0,534.43 L558.0,534.61 L559.0,534.75 L560.0,534.60 L561.0,534.21 L562.0,533.78 L563.0,533.74 L564.0,533.74 L565.0,534.00 L566.0,534.11 L567.0,534.09 L568.0,534.05 L569.0,534.19 L570.0,534.00 L571.0,533.76 L572.0,533.78 L573.0,533.59 L574.0,533.63 L575.0,533.68 L576.0,533.53 L577.0,534.07 L578.0,533.66 L579.0,534.02 L580.0,533.96 L581.0,534.23 L582.0,533.65 L583.0,533.91 L584.0,534.01 L585.0,533.96 L586.0,534.21 L587.0,533.87 L588.0,534.17 L589.0,534.28 L590.0,534.53 L591.0,534.58 L592.0,534.46 L593.0,534.44 L594.0,533.92 L595.0,534.10 L596.0,533.56 L597.0,533.79 L598.0,534.27 L599.0,534.06 L600.0,534.31 L601.0,534.63 L602.0,534.43 L603.0,534.17 L604.0,534.19 L605.0,534.07 L606.0,533.94 L607.0,533.55 L608.0,533.92 L609.0,533.85 L610.0,533.53 L611.0,533.60 L612.0,533.58 L613.0,534.11 L614.0,533.98 L615.0,534.49 L616.0,534.48 L617.0,534.50 L618.0,534.68 L619.0,534.61 L620.0,534.14 L621.0,533.85 L622.0,534.05 L623.0,533.93 L624.0,534.08 L625.0,534.37 L626.0,534.27 L627.0,533.82 L628.0,534.09 L629.0,533.43 L630.0,533.39 L631.0,533.07 L632.0,533.24 L633.0,533.10 L634.0,533.92 L635.0,533.98 L636.0,533.58 L637.0,533.52 L638.0,533.45 L639.0,533.89 L640.0,533.54 L641.0,533.59 L642.0,533.53 L643.0,533.56 L644.0,533.39 L645.0,533.61 L646.0,533.41 L647.0,533.76 L648.0,533.94 L649.0,534.07 L650.0,533.96 L651.0,533.77 L652.0,533.80 L653.0,533.49 L654.0,533.71 L655.0,533.52 L656.0,533.44 L657.0,533.55 L658.0,533.73 L659.0,533.86 L660.0,534.06 L661.0,534.16 L662.0,534.12 L663.0,534.04 L664.0,534.25 L665.0,533.74 L666.0,533.89 L667.0,534.40 L668.0,533.53 L669.0,533.68 L670.0,533.70 L671.0,533.63 L672.0,533.70 L673.0,533.70 L674.0,533.99 L675.0,534.10 L676.0,534.30 L677.0,533.75 L678.0,533.73 L679.0,533.62 L680.0,533.18 L681.0,533.03 L682.0,533.30 L683.0,533.16 L684.0,533.51 L685.0,533.61 L686.0,533.51 L687.0,533.44 L688.0,533.16 L689.0,532.79 L690.0,532.99 L691.0,533.16 L692.0,533.18 L693.0,533.53 L694.0,533.94 L695.0,533.85 L696.0,534.23 L697.0,534.45 L698.0,533.90 L699.0,533.83 L700.0,533.54 L701.0,533.58 L702.0,533.13 L703.0,533.08 L704.0,532.77 L705.0,533.00 L706.0,533.21 L707.0,533.14 L708.0,533.91 L709.0,533.86 L710.0,533.25 L711.0,533.42 L712.0,532.94 L713.0,532.80 L714.0,532.73 L715.0,532.57 L716.0,533.16 L717.0,533.90 L718.0,533.88 L719.0,533.98 L720.0,533.87 L721.0,533.67 L722.0,533.66 L723.0,533.67 L724.0,533.34 L725.0,533.37 L726.0,533.92 L727.0,533.64 L728.0,533.77 L729.0,534.04 L730.0,533.98 L731.0,533.56 L732.0,533.38 L733.0,533.53 L734.0,533.45 L735.0,533.16 L736.0,533.38 L737.0,533.36 L738.0,533.60 L739.0,533.56 L740.0,533.63 L741.0,533.63 L742.0,533.88 L743.0,533.86 L744.0,533.39 L745.0,533.40 L746.0,532.92 L747.0,532.95 L748.0,533.08 L749.0,533.37 L750.0,533.28 L751.0,533.60 L752.0,533.85 L753.0,533.62 L754.0,533.82 L755.0,533.52 L756.0,533.50 L757.0,533.05 L758.0,532.77 L759.0,533.06 L760.0,533.07 L761.0,532.88 L762.0,533.10 L763.0,532.85 L764.0,532.80 L765.0,533.07 L766.0,532.84 L767.0,533.16 L768.0,533.43 L769.0,533.66 L770.0,533.46 L771.0,533.47 L772.0,533.21 L773.0,533.36 L774.0,533.67 L775.0,533.40 L776.0,534.12 L777.0,533.69 L778.0,533.79 L779.0,533.66 L780.0,533.56 L781.0,532.88 L782.0,532.52 L783.0,532.94 L784.0,533.03 L785.0,533.15 L786.0,533.67 L787.0,533.34 L788.0,533.37 L789.0,533.44 L790.0,533.25 L791.0,533.42 L792.0,532.88 L793.0,533.07 L794.0,532.59 L795.0,533.44 L796.0,533.31 L797.0,533.64 L798.0,533.96 L799.0,533.69 L800.0,533.76 L801.0,533.80 L802.0,533.73 L803.0,533.66 L804.0,533.69 L805.0,533.34 L806.0,533.15 L806.5,533.04 L807.0,533.21 L807.5,533.14 L808.0,533.07 L808.5,533.29 L809.0,533.23 L809.5,533.16 L810.0,533.74 L810.5,533.66 L811.0,533.48 L811.5,533.89 L812.0,533.76 L812.5,533.36 L813.0,533.84 L813.5,533.46 L814.0,533.36 L814.5,532.97 L815.0,532.59 L815.5,532.28 L816.0,531.90 L816.5,531.39 L817.0,530.70 L817.5,529.79 L818.0,528.60" fill="none" stroke="#3e36a2" stroke-width="2.1" stroke-linejoin="round"/>
<path d="M858.0,524.12 L858.5,524.73 L859.0,525.30 L859.5,525.83 L860.0,526.20 L860.5,527.02 L861.0,527.17 L861.5,527.41 L862.0,527.80 L862.5,528.01 L863.0,528.37 L863.5,528.44 L864.0,528.76 L864.5,528.66 L865.0,529.26 L865.5,529.77 L866.0,530.21 L866.5,530.24 L867.0,530.62 L867.5,531.25 L868.0,531.21 L868.5,531.68 L869.0,532.08 L869.5,531.98 L870.0,532.34 L870.5,532.06 L871.0,532.26 L871.5,532.20 L872.0,532.20 L872.5,532.34 L873.0,532.53 L873.5,531.95 L874.0,531.97 L874.5,532.19 L875.0,531.98 L875.5,532.36 L876.0,532.51 L876.5,532.50 L877.0,532.81 L877.5,532.58 L878.0,533.13 L878.5,532.81 L879.0,533.03 L879.5,533.07 L880.0,533.06 L881.0,533.12 L882.0,532.73 L883.0,532.41 L884.0,532.44 L885.0,532.62 L886.0,532.41 L887.0,532.56 L888.0,532.74 L889.0,532.45 L890.0,531.91 L891.0,532.19 L892.0,531.63 L893.0,530.26 L894.0,529.88 L895.0,529.11 L896.0,528.22 L897.0,527.09 L898.0,525.88 L899.0,524.87 L900.0,524.53 L901.0,524.62 L902.0,524.53 L903.0,525.07 L904.0,525.94 L905.0,526.34 L906.0,527.36 L907.0,528.01 L908.0,528.79 L909.0,529.16 L910.0,529.67 L911.0,530.27 L912.0,530.78 L913.0,531.03 L914.0,531.43 L915.0,531.76 L916.0,531.98 L917.0,532.18 L918.0,531.82 L919.0,531.93 L920.0,531.56 L921.0,532.31 L922.0,531.76 L923.0,531.83 L924.0,531.95 L925.0,531.74 L926.0,532.32 L927.0,532.54 L928.0,532.49 L929.0,533.02 L930.0,533.16 L931.0,532.41 L932.0,532.62 L933.0,532.25 L934.0,532.17 L935.0,532.21 L936.0,532.55 L937.0,532.53 L938.0,532.93 L939.0,532.76 L940.0,532.87 L941.0,532.36 L942.0,532.23 L943.0,532.35 L944.0,532.02 L945.0,531.96 L946.0,531.93 L947.0,532.18 L948.0,532.52 L949.0,532.77 L950.0,532.72 L951.0,532.73 L952.0,532.57 L953.0,532.73 L954.0,532.30 L955.0,532.12 L956.0,532.22 L957.0,531.96 L958.0,531.85 L959.0,531.86 L960.0,532.08 L961.0,532.44 L962.0,532.57 L963.0,532.36 L964.0,532.59 L965.0,532.34 L966.0,531.87 L967.0,531.96 L968.0,531.64 L969.0,531.65 L970.0,531.98 L971.0,532.26 L972.0,532.04 L973.0,532.30 L974.0,532.02 L975.0,532.48 L976.0,531.85 L977.0,532.08 L978.0,531.76 L979.0,532.12 L980.0,532.54 L981.0,531.87 L982.0,532.44 L983.0,532.80 L984.0,532.86 L985.0,532.91 L986.0,533.52 L987.0,533.19 L988.0,532.81 L989.0,533.09 L990.0,532.39 L991.0,532.68 L992.0,532.22 L993.0,532.32 L994.0,532.63 L995.0,532.60 L996.0,532.49 L997.0,532.49 L998.0,532.92 L999.0,532.63 L1000.0,532.09 L1001.0,532.19 L1002.0,532.07 L1003.0,532.22 L1004.0,531.95 L1005.0,532.60 L1006.0,533.06 L1007.0,533.14 L1008.0,533.12 L1009.0,532.36 L1010.0,532.63 L1011.0,532.52 L1012.0,532.80 L1013.0,532.15 L1014.0,532.28 L1015.0,532.38 L1016.0,532.55 L1017.0,532.30 L1018.0,532.58 L1019.0,532.22 L1020.0,532.42 L1021.0,532.28 L1022.0,532.40 L1023.0,532.20 L1024.0,531.97 L1025.0,532.38 L1026.0,532.20 L1027.0,532.07 L1028.0,532.28 L1029.0,532.53 L1030.0,532.26 L1031.0,532.44 L1032.0,532.51 L1033.0,532.41 L1034.0,532.17 L1035.0,531.81 L1036.0,532.44 L1037.0,532.38 L1038.0,532.44 L1039.0,532.48 L1040.0,532.61 L1041.0,532.46 L1042.0,532.31 L1043.0,532.34 L1044.0,532.41 L1045.0,532.50 L1046.0,532.51 L1047.0,532.88 L1048.0,532.47 L1049.0,532.66 L1050.0,532.13 L1051.0,532.18 L1052.0,532.27 L1053.0,532.13 L1054.0,532.18 L1055.0,532.60 L1056.0,532.86 L1057.0,532.65 L1058.0,532.83 L1059.0,532.83 L1060.0,532.55 L1061.0,532.55 L1062.0,532.69 L1063.0,532.85 L1064.0,533.10 L1065.0,533.26 L1066.0,533.22 L1067.0,533.25 L1068.0,533.04 L1069.0,532.77 L1070.0,532.50 L1071.0,531.96 L1072.0,532.02 L1073.0,531.97 L1074.0,531.78 L1075.0,532.01 L1076.0,532.23 L1077.0,532.27 L1078.0,532.84 L1079.0,532.12 L1080.0,532.61 L1081.0,532.28 L1082.0,532.66 L1083.0,532.81 L1084.0,531.78 L1085.0,532.26 L1086.0,532.48 L1087.0,532.59 L1088.0,533.03 L1089.0,532.76 L1090.0,533.39 L1091.0,533.19 L1092.0,532.89 L1093.0,532.50 L1094.0,532.52 L1095.0,532.27 L1096.0,532.53 L1097.0,532.64 L1098.0,532.59 L1099.0,533.17 L1100.0,533.25 L1101.0,533.25 L1102.0,532.76 L1103.0,532.73 L1104.0,532.72 L1105.0,532.62 L1106.0,532.87" fill="none" stroke="#3e36a2" stroke-width="2.1" stroke-linejoin="round"/>
<circle cx="833" cy="167.5" r="1.6" fill="#30307a"/>
<g stroke="#4a4a66" stroke-width="1.3">
<line x1="811" y1="528" x2="811" y2="533"/>
<line x1="871" y1="532" x2="871" y2="537"/>
<line x1="890.5" y1="525" x2="890.5" y2="531"/>
<line x1="919.5" y1="532" x2="919.5" y2="537"/>
</g>
<g fill="#888"><rect x="218" y="142" width="5" height="1.5"/><rect x="316" y="142" width="5" height="1.5"/><rect x="633" y="142" width="5" height="1.5"/></g>
</svg>
<div class="title"><span class="tx">天然甘油酯（对照品，10mg/ml, 进样  2ul）</span><span class="ret">↵</span></div>
<div class="tbg" style="left:157.5px;top:646.5px;width:945px;height:24.5px"></div><div class="tbg" style="left:157.5px;top:740.5px;width:945px;height:4px"></div><div class="tbg" style="left:1099px;top:671px;width:3.5px;height:70px"></div>
<div class="tbody"></div>
<div class="vl" style="left:159.0px"></div><div class="vl" style="left:220.8px"></div><div class="vl" style="left:366.8px"></div><div class="vl" style="left:537.0px"></div><div class="vl" style="left:707.0px"></div><div class="vl" style="left:852.5px"></div><div class="vl" style="left:975.0px"></div><div class="vl" style="left:1096.5px"></div><div class="hl" style="top:673px"></div><div class="hl" style="top:705px"></div><div class="hl" style="top:737px"></div>
<div class="th" style="left:110.4px;top:644.2px;font-size:25px">#</div><div class="th" style="left:211.8px">时间</div><div class="th" style="left:369.9px">峰面积</div><div class="th" style="left:540.0px">峰高</div><div class="th" style="left:697.8px">峰宽</div><div class="th" style="left:831.8px">对称因子</div><div class="th" style="left:982px;text-align:left;transform-origin:0 0">峰面积 <span class="pc">%</span></div><div class="td" style="left:110.9px;top:675px">1</div><div class="td" style="left:214.8px;top:675px">32.786</div><div class="td" style="left:372.9px;top:675px">119235</div><div class="td" style="left:543.0px;top:675px">3183.6</div><div class="td" style="left:700.8px;top:675px">0.6242</div><div class="td" style="left:834.8px;top:675px">0.911</div><div class="td" style="left:956.8px;top:675px">98.058</div><div class="td" style="left:110.9px;top:707px">2</div><div class="td" style="left:214.8px;top:707px">35.942</div><div class="td" style="left:372.9px;top:707px">2361.9</div><div class="td" style="left:543.0px;top:707px">67.2</div><div class="td" style="left:700.8px;top:707px">0.5857</div><div class="td" style="left:834.8px;top:707px">1.545</div><div class="td" style="left:959.8px;top:707px">1.942</div>
</body></html>
